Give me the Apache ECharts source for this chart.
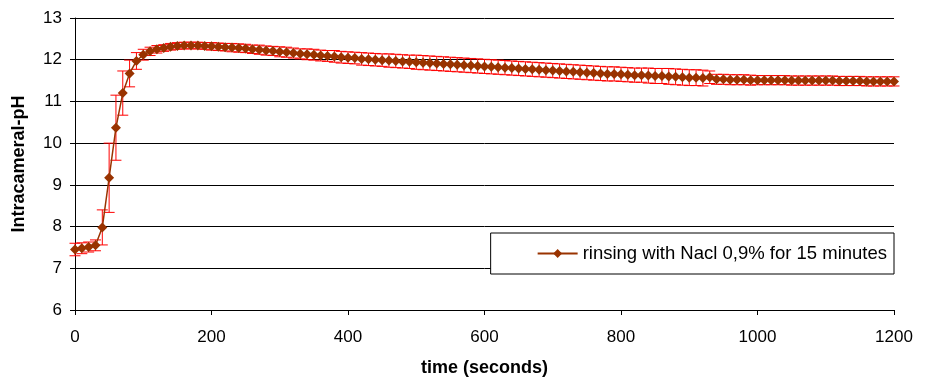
<!DOCTYPE html>
<html>
<head>
<meta charset="utf-8">
<script src="https://cdn.jsdelivr.net/npm/echarts@6/dist/echarts.min.js"></script>
<style>
  html, body { margin: 0; padding: 0; background: #fff; }
  #chart { width: 928px; height: 382px; }
</style>
</head>
<body>
<div id="chart"></div>
<script>
// time in seconds, one sample every 10 s
const times = [
  0, 10, 20, 30, 40, 50, 60, 70, 80, 90,
  100, 110, 120, 130, 140, 150, 160, 170, 180, 190,
  200, 210, 220, 230, 240, 250, 260, 270, 280, 290,
  300, 310, 320, 330, 340, 350, 360, 370, 380, 390,
  400, 410, 420, 430, 440, 450, 460, 470, 480, 490,
  500, 510, 520, 530, 540, 550, 560, 570, 580, 590,
  600, 610, 620, 630, 640, 650, 660, 670, 680, 690,
  700, 710, 720, 730, 740, 750, 760, 770, 780, 790,
  800, 810, 820, 830, 840, 850, 860, 870, 880, 890,
  900, 910, 920, 930, 940, 950, 960, 970, 980, 990,
  1000, 1010, 1020, 1030, 1040, 1050, 1060, 1070, 1080, 1090,
  1100, 1110, 1120, 1130, 1140, 1150, 1160, 1170, 1180, 1190, 1200
]

// mean intracameral pH
const ph = [
  7.45, 7.48, 7.51, 7.55, 7.98, 9.17, 10.37, 11.20, 11.67, 11.97,
  12.12, 12.20, 12.25, 12.28, 12.31, 12.33, 12.34, 12.34, 12.34, 12.33,
  12.32, 12.31, 12.30, 12.29, 12.28, 12.27, 12.25, 12.24, 12.22, 12.21,
  12.19, 12.18, 12.16, 12.14, 12.13, 12.12, 12.10, 12.09, 12.08, 12.06,
  12.05, 12.04, 12.02, 12.01, 12.00, 11.99, 11.98, 11.97, 11.96, 11.95,
  11.94, 11.93, 11.92, 11.91, 11.90, 11.89, 11.88, 11.87, 11.86, 11.85,
  11.84, 11.83, 11.82, 11.81, 11.80, 11.79, 11.78, 11.77, 11.76, 11.75,
  11.74, 11.73, 11.72, 11.71, 11.70, 11.69, 11.68, 11.67, 11.66, 11.66,
  11.65, 11.64, 11.63, 11.63, 11.62, 11.61, 11.61, 11.60, 11.59, 11.58,
  11.57, 11.57, 11.56, 11.58, 11.53, 11.53, 11.52, 11.52, 11.52, 11.51,
  11.51, 11.51, 11.51, 11.51, 11.51, 11.50, 11.50, 11.50, 11.50, 11.50,
  11.50, 11.50, 11.49, 11.49, 11.49, 11.49, 11.48, 11.48, 11.48, 11.48, 11.48
]

// error bar half-width (pH units)
const err = [
  0.15, 0.13, 0.12, 0.13, 0.42, 0.83, 0.78, 0.53, 0.32, 0.20,
  0.13, 0.10, 0.09, 0.08, 0.08, 0.08, 0.08, 0.08, 0.08, 0.08,
  0.09, 0.09, 0.09, 0.10, 0.10, 0.10, 0.10, 0.11, 0.11, 0.11,
  0.12, 0.12, 0.12, 0.12, 0.13, 0.13, 0.13, 0.13, 0.14, 0.14,
  0.14, 0.14, 0.15, 0.15, 0.15, 0.15, 0.16, 0.16, 0.16, 0.16,
  0.17, 0.17, 0.17, 0.17, 0.17, 0.17, 0.17, 0.17, 0.17, 0.17,
  0.17, 0.17, 0.17, 0.17, 0.17, 0.17, 0.17, 0.17, 0.17, 0.17,
  0.17, 0.17, 0.17, 0.17, 0.17, 0.17, 0.17, 0.17, 0.17, 0.17,
  0.17, 0.17, 0.17, 0.17, 0.18, 0.18, 0.18, 0.19, 0.19, 0.19,
  0.19, 0.19, 0.19, 0.15, 0.12, 0.12, 0.12, 0.12, 0.12, 0.12,
  0.11, 0.11, 0.11, 0.11, 0.11, 0.11, 0.11, 0.11, 0.11, 0.11,
  0.11, 0.11, 0.11, 0.11, 0.11, 0.11, 0.11, 0.11, 0.11, 0.11, 0.11
]

const seriesName = 'rinsing with Nacl 0,9% for 15 minutes'
const xTicks = { min: 0, max: 1200, interval: 200 }
const yTicks = { min: 6, max: 13, interval: 1 }

const font = '"Liberation Sans", Arial, sans-serif'

const chart = echarts.init(document.getElementById('chart'))

chart.setOption({
  animation: false,
  backgroundColor: '#fff',
  grid: {
    left: 75,
    right: 34,
    top: 18,
    bottom: 72
  },
  legend: {
    data: [seriesName],
    right: 34,
    top: 233,
    orient: 'horizontal',
    backgroundColor: '#fff',
    borderColor: '#000',
    borderWidth: 1,
    borderRadius: 0,
    padding: [11, 7, 11, 46],
    itemWidth: 40,
    itemHeight: 11,
    itemGap: 0,
    textStyle: {
      fontFamily: font,
      fontSize: 18.5,
      color: '#000'
    },
    z: 10
  },
  xAxis: {
    type: 'value',
    min: xTicks.min,
    max: xTicks.max,
    interval: xTicks.interval,
    name: 'time (seconds)',
    nameLocation: 'middle',
    nameGap: 49,
    nameTextStyle: {
      fontFamily: font,
      fontSize: 18,
      fontWeight: 'bold',
      color: '#000'
    },
    axisLine: { lineStyle: { color: '#000', width: 1 } },
    axisTick: { show: true, length: 5, inside: false, lineStyle: { color: '#000' } },
    axisLabel: {
      margin: 19,
      fontFamily: font,
      fontSize: 17,
      color: '#000',
      formatter: (v) => String(v)
    },
    splitLine: { show: false }
  },
  yAxis: {
    type: 'value',
    min: yTicks.min,
    max: yTicks.max,
    interval: yTicks.interval,
    name: 'Intracameral-pH',
    nameLocation: 'middle',
    nameGap: 47,
    nameTextStyle: {
      fontFamily: font,
      fontSize: 18,
      fontWeight: 'bold',
      color: '#000'
    },
    axisLine: { show: true, lineStyle: { color: '#000', width: 1 } },
    axisTick: { show: true, length: 5, inside: false, lineStyle: { color: '#000' } },
    axisLabel: {
      margin: 13,
      fontFamily: font,
      fontSize: 17,
      color: '#000'
    },
    splitLine: { show: true, lineStyle: { color: '#000', width: 1 } }
  },
  series: [
    {
      name: 'error',
      type: 'custom',
      z: 2,
      silent: true,
      data: times.map((t, i) => [t, ph[i] - err[i], ph[i] + err[i]]),
      renderItem: (params, api) => {
        const x = api.value(0)
        const top = api.coord([x, api.value(2)])
        const bot = api.coord([x, api.value(1)])
        const w = 5.5
        const style = { stroke: '#ff0000', lineWidth: 1 }
        return {
          type: 'group',
          children: [
            { type: 'line', shape: { x1: top[0], y1: top[1], x2: bot[0], y2: bot[1] }, style },
            { type: 'line', shape: { x1: top[0] - w, y1: top[1], x2: top[0] + w, y2: top[1] }, style },
            { type: 'line', shape: { x1: bot[0] - w, y1: bot[1], x2: bot[0] + w, y2: bot[1] }, style }
          ]
        }
      }
    },
    {
      name: seriesName,
      type: 'line',
      z: 3,
      data: times.map((t, i) => [t, ph[i]]),
      symbol: 'diamond',
      symbolSize: 10,
      showSymbol: true,
      lineStyle: { color: '#993300', width: 1.5 },
      itemStyle: { color: '#993300', borderWidth: 0 }
    }
  ]
})
</script>
</body>
</html>
